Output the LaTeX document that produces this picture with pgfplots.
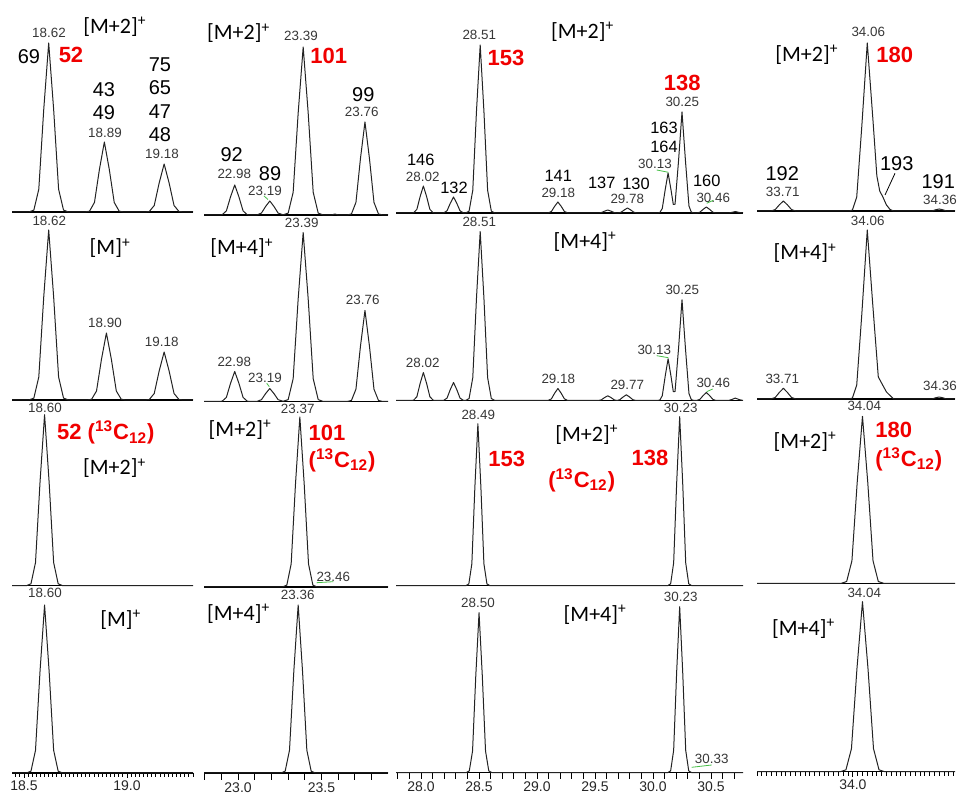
\documentclass[border=0pt]{standalone}
\usepackage{fontspec}
\setmainfont{Liberation Sans}
\newfontfamily\ionfont{Carlito}
\usepackage{pgfplots}
\pgfplotsset{compat=1.18}

\definecolor{rtgray}{RGB}{55,55,55}
\definecolor{hired}{RGB}{240,0,0}
\definecolor{lblgreen}{RGB}{70,190,70}
\definecolor{trace}{RGB}{35,35,35}

\newcommand{\rtf}{\fontsize{6.7}{7}\selectfont}
\newcommand{\ionf}{\ionfont\fontsize{11}{12}\selectfont}
\newcommand{\numf}{\fontsize{10}{11}\selectfont}
\newcommand{\numsf}{\fontsize{8.2}{9}\selectfont}
\newcommand{\redf}{\fontsize{11}{12}\selectfont\bfseries}
\newcommand{\ciso}{(\textsuperscript{13}C\textsubscript{12})}
\newcommand{\Mp}[1]{[M#1]\textsuperscript{+}}

\pgfplotsset{
  panel/.style={scale only axis, height=100pt, ymin=0, ymax=200,
    hide y axis, axis x line*=bottom,
    x axis line style={line width=0.75pt, black},
    xtick=\empty, clip=false, anchor=south west},
  tr/.style={trace, line width=0.5pt, line join=round, no markers},
  colA/.style={xmin=18.442, xmax=19.32, width=90.5pt},
  colB/.style={xmin=22.796, xmax=23.898, width=92pt},
  colC/.style={xmin=27.784, xmax=30.776, width=173.5pt},
  colD/.style={xmin=33.60, xmax=34.426, width=99pt},
  ticked/.style={tick align=outside, tick style={black, line width=0.45pt},
    /pgf/number format/assume math mode=true,
    xticklabel shift=-2pt,
    xticklabel style={font=\fontsize{7}{8}\selectfont, text=black!85,
      /pgf/number format/.cd, fixed, fixed zerofill, precision=1}},
}

\begin{document}
\begin{tikzpicture}
\path[use as bounding box] (0,0) rectangle (479pt,398pt);

% ---------------- row 1 ----------------
\begin{axis}[panel, colA, at={(6pt,292pt)}]
\addplot[tr] coordinates {(18.442,0)(18.524,0)(18.548,1.9)(18.572,22.8)(18.596,102.6)(18.62,169)(18.644,102.6)(18.668,22.8)(18.692,1.9)(18.716,0)
(18.794,0)(18.818,0.8)(18.842,9.5)(18.866,42.5)(18.89,70)(18.914,42.5)(18.938,9.5)(18.962,0.8)(18.986,0)
(19.084,0)(19.108,0.5)(19.132,6.5)(19.156,29.1)(19.18,48)(19.204,29.1)(19.228,6.5)(19.252,0.5)(19.276,0)(19.32,0)};
\end{axis}
\begin{axis}[panel, colB, at={(102pt,290.5pt)}]
\addplot[tr] coordinates {(22.796,0)(22.88,0)(22.905,0.3)(22.93,4.1)(22.955,18.2)(22.98,30)(23.005,18.2)(23.03,4.1)(23.055,0.3)(23.08,0)
(23.09,0)(23.115,0.2)(23.14,1.9)(23.165,8.5)(23.19,14)(23.215,8.5)(23.24,1.9)(23.27,0.2)(23.30,1.9)(23.33,22.7)(23.36,102)(23.39,168)(23.42,102)(23.45,22.7)(23.48,1.9)(23.51,0)
(23.56,0)(23.58,1)(23.60,0)
(23.652,0)(23.679,1.0)(23.706,12.6)(23.733,56.4)(23.76,93)(23.787,56.4)(23.814,12.6)(23.841,1.0)(23.868,0)(23.898,0)};
\end{axis}
\begin{axis}[panel, colC, at={(198pt,291.5pt)}]
\addplot[tr] coordinates {(27.784,0)(27.908,0)(27.936,0.3)(27.964,3.6)(27.992,16.4)(28.02,27)(28.048,16.4)(28.076,3.6)(28.104,0.3)(28.132,0)
(28.168,0)(28.196,0.2)(28.224,2.2)(28.252,9.7)(28.28,16)(28.308,9.7)(28.336,2.2)(28.364,0.2)(28.385,0.1)(28.414,1.8)(28.446,22.7)(28.478,102)(28.51,168)(28.542,102)(28.574,22.7)(28.606,1.8)(28.638,0)
(29.068,0)(29.096,0.1)(29.124,1.5)(29.152,6.7)(29.18,11)(29.208,6.7)(29.236,1.5)(29.264,0.1)(29.292,0)
(29.526,0)(29.554,0.4)(29.582,1.8)(29.61,3)(29.638,1.8)(29.666,0.4)(29.694,0)
(29.724,0.7)(29.752,3.0)(29.78,5)(29.808,3.0)(29.836,0.7)(29.864,0)
(30.04,0)(30.06,0.6)(30.08,4.6)(30.105,23.2)(30.13,40)(30.155,23.3)(30.175,8.5)(30.19,8.8)(30.22,51.9)(30.25,101)(30.28,51.9)(30.31,7.0)(30.33,0.9)(30.355,0)
(30.376,0)(30.404,0.8)(30.432,3.6)(30.46,6)(30.488,3.6)(30.516,0.8)(30.544,0)
(30.65,0)(30.68,0.6)(30.71,1.5)(30.74,0.6)(30.776,0)};
\end{axis}
\begin{axis}[panel, colD, at={(378.5pt,292.5pt)}]
\addplot[tr] coordinates {(33.60,0)(33.642,0)(33.659,0.1)(33.676,1.4)(33.693,6.1)(33.71,10)(33.727,6.1)(33.744,1.4)(33.761,0.1)(33.778,0)
(33.985,0)(33.998,1)(34.016,14)(34.037,84)(34.06,168)(34.084,90)(34.10,35)(34.112,20)(34.125,14)(34.14,6)(34.155,1.5)(34.17,0)
(34.33,0)(34.345,1.2)(34.36,2)(34.375,1.2)(34.39,0)(34.426,0)};
\end{axis}

% ---------------- row 2 ----------------
\begin{axis}[panel, colA, at={(6pt,198pt)}]
\addplot[tr] coordinates {(18.442,0)(18.524,0)(18.548,1.9)(18.572,23.0)(18.596,103.2)(18.62,170)(18.644,103.2)(18.668,23.0)(18.692,1.9)(18.716,0)
(18.804,0)(18.828,0.7)(18.852,9.0)(18.876,40.7)(18.90,67)(18.924,40.7)(18.948,9.0)(18.972,0.7)(18.996,0)
(19.084,0)(19.108,0.5)(19.132,6.5)(19.156,29.1)(19.18,48)(19.204,29.1)(19.228,6.5)(19.252,0.5)(19.276,0)(19.32,0)};
\end{axis}
\begin{axis}[panel, colB, at={(102pt,197.25pt)}]
\addplot[tr] coordinates {(22.796,0)(22.88,0)(22.905,0.3)(22.93,4.1)(22.955,18.2)(22.98,30)(23.005,18.2)(23.03,4.1)(23.055,0.3)(23.08,0)
(23.09,0)(23.115,0.2)(23.14,1.8)(23.165,7.9)(23.19,13)(23.215,7.9)(23.24,1.8)(23.27,0.2)(23.30,1.9)(23.33,22.8)(23.36,102.6)(23.39,169)(23.42,102.6)(23.45,22.8)(23.48,1.9)(23.51,0)
(23.652,0)(23.679,1.0)(23.706,12.3)(23.733,55.2)(23.76,91)(23.787,55.2)(23.814,12.3)(23.841,1.0)(23.868,0)(23.898,0)};
\end{axis}
\begin{axis}[panel, colC, at={(198pt,197.75pt)}]
\addplot[tr] coordinates {(27.784,0)(27.908,0)(27.936,0.3)(27.964,3.8)(27.992,17.0)(28.02,28)(28.048,17.0)(28.076,3.8)(28.104,0.3)(28.132,0)
(28.168,0)(28.196,0.2)(28.224,2.4)(28.252,10.9)(28.28,18)(28.308,10.9)(28.336,2.4)(28.364,0.2)(28.385,0.1)(28.414,1.9)(28.446,22.8)(28.478,102.6)(28.51,169)(28.542,102.6)(28.574,22.8)(28.606,1.9)(28.638,0)
(29.068,0)(29.096,0.1)(29.124,1.6)(29.152,7.3)(29.18,12)(29.208,7.3)(29.236,1.6)(29.264,0.1)(29.292,0)
(29.526,0)(29.554,0.6)(29.582,2.9)(29.61,4.7)(29.638,2.9)(29.666,0.6)(29.69,0)
(29.714,0.8)(29.742,3.5)(29.77,5.7)(29.798,3.5)(29.826,0.8)(29.854,0)
(30.04,0)(30.06,0.6)(30.08,4.8)(30.105,24.2)(30.13,41.7)(30.155,24.3)(30.175,8.8)(30.19,9.0)(30.22,51.8)(30.25,100.7)(30.28,51.7)(30.31,7.0)(30.33,0.9)(30.355,0)
(30.376,0)(30.404,1.1)(30.432,4.9)(30.46,8)(30.488,4.9)(30.516,1.1)(30.544,0)
(30.65,0)(30.68,1.0)(30.71,2.4)(30.74,1.0)(30.776,0)};
\end{axis}
\begin{axis}[panel, colD, at={(378.5pt,198.5pt)}]
\addplot[tr] coordinates {(33.60,0)(33.642,0)(33.659,0.1)(33.676,1.5)(33.693,6.5)(33.71,10.7)(33.727,6.5)(33.744,1.5)(33.761,0.1)(33.778,0)
(33.985,0)(33.998,1)(34.016,14)(34.037,84)(34.06,169)(34.083,94)(34.106,22)(34.14,7)(34.17,0)
(34.33,0)(34.345,1.2)(34.36,2)(34.375,1.2)(34.39,0)(34.426,0)};
\end{axis}

% ---------------- row 3 ----------------
\begin{axis}[panel, colA, at={(6pt,105.15pt)}]
\addplot[tr] coordinates {(18.442,0)(18.512,0)(18.534,1.9)(18.556,23.1)(18.578,103.8)(18.60,171)(18.622,103.8)(18.644,23.1)(18.666,1.9)(18.688,0)(19.32,0)};
\end{axis}
\begin{axis}[panel, colB, at={(102pt,104.5pt)}]
\addplot[tr] coordinates {(22.796,0)(23.266,0)(23.292,1.9)(23.318,23.0)(23.344,103.2)(23.37,170)(23.396,103.2)(23.422,23.0)(23.448,1.9)(23.474,0)(23.898,0)};
\end{axis}
\begin{axis}[panel, colC, at={(198pt,105.15pt)}]
\addplot[tr] coordinates {(27.784,0)(28.386,0)(28.412,1.8)(28.438,21.9)(28.464,98.3)(28.49,162)(28.516,98.3)(28.542,21.9)(28.568,1.8)(28.594,0)
(30.126,0)(30.152,1.9)(30.178,22.8)(30.204,102.6)(30.23,169)(30.256,102.6)(30.282,22.8)(30.308,1.9)(30.334,0)(30.776,0)};
\end{axis}
\begin{axis}[panel, colD, at={(378.5pt,106.35pt)}]
\addplot[tr] coordinates {(33.60,0)(33.952,0)(33.974,1.8)(33.996,22.5)(34.018,101)(34.04,167)(34.062,101)(34.084,22.5)(34.106,1.8)(34.128,0)(34.426,0)};
\end{axis}

% ---------------- row 4 (time axis) ----------------
\begin{axis}[panel, colA, at={(6pt,11.5pt)}, ticked,
  xtick={18.5,19.0}, minor xtick={18.44,18.46,...,19.32},
  major tick length=2.5pt, minor tick length=2pt]
\addplot[tr] coordinates {(18.442,0)(18.512,0)(18.534,1.8)(18.556,22.7)(18.578,102.0)(18.60,168)(18.622,102.0)(18.644,22.7)(18.666,1.8)(18.688,0)(19.32,0)};
\end{axis}
\begin{axis}[panel, colB, at={(102pt,11.5pt)}, ticked,
  xtick={23.0,23.5}, minor xtick={22.8,22.9,...,23.8},
  major tick length=3.5pt, minor tick length=3.5pt]
\addplot[tr] coordinates {(22.796,0)(23.256,0)(23.282,1.8)(23.308,22.7)(23.334,102)(23.36,168)(23.386,102)(23.412,22.7)(23.438,1.8)(23.464,0)(23.898,0)};
\end{axis}
\begin{axis}[panel, colC, at={(198pt,11.65pt)}, ticked,
  xtick={28.0,28.5,...,30.5}, minor xtick={27.8,27.9,...,30.7},
  major tick length=3pt, minor tick length=3pt]
\addplot[tr] coordinates {(27.784,0)(28.388,0)(28.416,1.8)(28.444,21.6)(28.472,97.1)(28.50,160)(28.528,97.1)(28.556,21.6)(28.584,1.8)(28.612,0)
(30.126,0)(30.152,1.8)(30.178,22.4)(30.204,100.8)(30.23,166)(30.256,100.8)(30.282,22.4)(30.308,1.8)(30.334,0)(30.776,0)};
\end{axis}
\begin{axis}[panel, colD, at={(378.5pt,12.15pt)}, ticked,
  xtick={34.0}, minor xtick={33.6,33.62,...,34.42},
  major tick length=2.5pt, minor tick length=2pt]
\addplot[tr] coordinates {(33.60,0)(33.948,0)(33.971,1.9)(33.994,23.0)(34.017,103.2)(34.04,170)(34.063,103.2)(34.086,23.0)(34.109,1.9)(34.132,0)(34.426,0)};
\end{axis}

% ---------------- annotations ----------------
\begin{scope}[x=0.5pt, y=-0.5pt, shift={(0pt,398pt)}, every node/.style={inner sep=0pt}]
% retention times
\foreach \xx/\yy/\tt in {49/33/18.62, 105/133/18.89, 162/154/19.18, 301/36/23.39, 361.7/111.7/23.76,
  234.3/174.3/22.98, 265/190.7/23.19, 479.3/35/28.51, 682.3/101.7/30.25, 655/164/30.13,
  422.7/176.7/28.02, 558.3/192.7/29.18, 627.3/199/29.78, 713.3/197.7/30.46, 868.3/32.3/34.06,
  782.7/192.3/33.71, 940/200/34.36,
  49.3/220.7/18.62, 105/323.3/18.90, 161.7/341.7/19.18, 301.7/222.7/23.39, 362.7/300/23.76,
  234.3/361.7/22.98, 265/378.3/23.19, 479.3/222.3/28.51, 682.3/290/30.25, 422.7/363.3/28.02,
  558.3/379/29.18, 627.3/385/29.77, 654.3/350/30.13, 713.3/382.7/30.46, 867.7/220.7/34.06,
  782.3/379/33.71, 940/386/34.36,
  45/408.3/18.60, 297.7/409.3/23.37, 333.3/576.7/23.46, 478.3/415/28.49, 680.7/408.3/30.23,
  864.3/406/34.04,
  45/592.7/18.60, 297.7/595/23.36, 478/603.3/28.50, 680.7/596.7/30.23, 711.7/759.3/30.33,
  864.3/592.7/34.04}
  \node[font=\rtf, text=rtgray] at (\xx,\yy) {\tt};

% label leaders
\draw[lblgreen, line width=0.4pt] (264,196) -- (268,199.5);
\draw[lblgreen, line width=0.4pt] (656.7,170) -- (668.3,172.3);
\draw[lblgreen, line width=0.4pt] (706.7,203.3) -- (713.3,200.3);
\draw[lblgreen, line width=0.4pt] (266.7,383.3) -- (269.3,386.7);
\draw[lblgreen, line width=0.4pt] (656.7,355.7) -- (668.3,357.7);
\draw[lblgreen, line width=0.4pt] (706.7,391.7) -- (712.7,389);
\draw[lblgreen, line width=0.4pt] (316.7,582.7) -- (333.3,581.7);
\draw[lblgreen, line width=0.4pt] (691.7,767.3) -- (711.7,765);
\draw[black, line width=0.4pt] (895,173.3) -- (885,195);

% compound numbers
\foreach \xx/\yy/\tt in {29/57/69, 104/90/43, 104/113/49, 160/65/75, 160/88/65, 160/112/47, 160/135/48,
  363.3/95/99, 231.7/155/92, 270/174/89, 782.3/174/192, 896.7/163.3/193, 938.3/181.7/191}
  \node[font=\numf] at (\xx,\yy) {\tt};
\foreach \xx/\yy/\tt in {420.7/160/146, 454/187.7/132, 558.3/176/141, 601.7/182.7/137, 636/184/130,
  664/128.3/163, 664/146.7/164, 706.7/181/160}
  \node[font=\numsf] at (\xx,\yy) {\tt};

% ion labels
\node[font=\ionf, anchor=west] at (83,27) {\Mp{+2}};
\node[font=\ionf, anchor=west] at (206.7,33.3) {\Mp{+2}};
\node[font=\ionf, anchor=west] at (550.7,32) {\Mp{+2}};
\node[font=\ionf, anchor=west] at (775,55) {\Mp{+2}};
\node[font=\ionf, anchor=west] at (89.3,248.3) {\Mp{}};
\node[font=\ionf, anchor=west] at (210,248.3) {\Mp{+4}};
\node[font=\ionf, anchor=west] at (553.3,241.7) {\Mp{+4}};
\node[font=\ionf, anchor=west] at (773.3,253.3) {\Mp{+4}};
\node[font=\ionf, anchor=west] at (82.7,468.3) {\Mp{+2}};
\node[font=\ionf, anchor=west] at (208.3,430) {\Mp{+2}};
\node[font=\ionf, anchor=west] at (555,435) {\Mp{+2}};
\node[font=\ionf, anchor=west] at (773.3,441.7) {\Mp{+2}};
\node[font=\ionf, anchor=west] at (100,620) {\Mp{}};
\node[font=\ionf, anchor=west] at (206.7,613.3) {\Mp{+4}};
\node[font=\ionf, anchor=west] at (563.3,615) {\Mp{+4}};
\node[font=\ionf, anchor=west] at (771.7,628.3) {\Mp{+4}};

% target compounds
\node[font=\redf, text=hired] at (71,55) {52};
\node[font=\redf, text=hired] at (328.8,56) {101};
\node[font=\redf, text=hired] at (506,58.3) {153};
\node[font=\redf, text=hired] at (682.3,83.3) {138};
\node[font=\redf, text=hired] at (894.7,55) {180};
\node[font=\redf, text=hired, anchor=west] at (56.7,432.7) {52 \ciso};
\node[font=\redf, text=hired, anchor=west] at (308.3,432.7) {101};
\node[font=\redf, text=hired, anchor=west] at (308.3,460) {\ciso};
\node[font=\redf, text=hired] at (506.7,459.3) {153};
\node[font=\redf, text=hired] at (650,458.3) {138};
\node[font=\redf, text=hired] at (581.7,480) {\ciso};
\node[font=\redf, text=hired, anchor=west] at (875,430) {180};
\node[font=\redf, text=hired, anchor=west] at (875,459.3) {\ciso};
\end{scope}
\end{tikzpicture}
\end{document}
